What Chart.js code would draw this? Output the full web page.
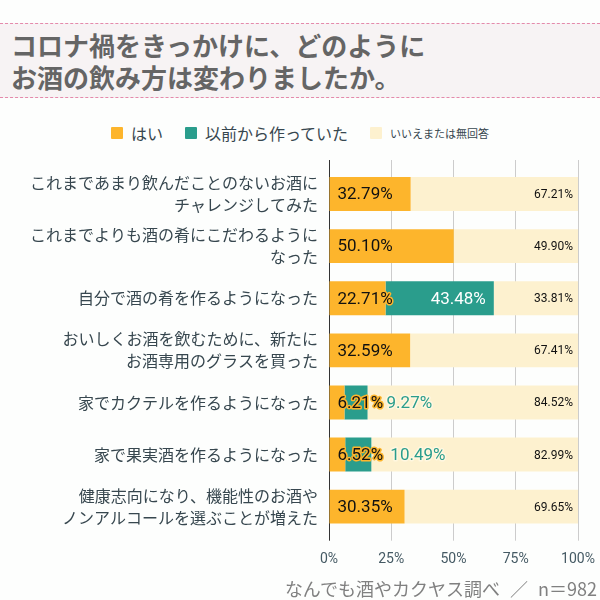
<!DOCTYPE html>
<html lang="ja">
<head>
<meta charset="utf-8">
<script src="https://cdn.jsdelivr.net/npm/chart.js@4"></script>
<style>
  body { margin: 0; background: #fdfefd; }
  #wrap { position: relative; width: 600px; height: 600px; overflow: hidden; font-family: 'Noto Sans CJK JP', sans-serif; }
  #title {
    position: absolute; left: 0; top: 23px; width: 600px; height: 73px;
    background: #f7f3f4; border-top: 1px dashed #e48aab; border-bottom: 1px dashed #e48aab;
    color: #656565; font-weight: bold; font-size: 26px; line-height: 32px;
  }
  #title div { padding-left: 11px; }
  #title div:first-child { margin-top: 5px; }
  #legend {
    position: absolute; left: 0; top: 122px; width: 600px; height: 22px;
    display: flex; align-items: center; justify-content: center; color: #37474f;
  }
  #legend .item { display: flex; align-items: center; margin: 0 11px; }
  #legend .box { width: 12px; height: 12px; margin-right: 8px; border-radius: 1px; }
  #chart { position: absolute; left: 0; top: 0; }
  #footer {
    position: absolute; right: 3px; top: 576px; color: #808080; font-size: 18px; line-height: 24px;
    word-spacing: 6px;
  }
</style>
</head>
<body>
<div id="wrap">
  <div id="title"><div>コロナ禍をきっかけに、どのように</div><div>お酒の飲み方は変わりましたか。</div></div>
  <div id="legend"></div>
  <canvas id="chart" width="600" height="600"></canvas>
  <div id="footer">なんでも酒やカクヤス調べ ／ n＝982</div>
</div>
<script>
const categories = [
    ['これまであまり飲んだことのないお酒に', 'チャレンジしてみた'],
    ['これまでよりも酒の肴にこだわるように', 'なった'],
    '自分で酒の肴を作るようになった',
    ['おいしくお酒を飲むために、新たに', 'お酒専用のグラスを買った'],
    '家でカクテルを作るようになった',
    '家で果実酒を作るようになった',
    ['健康志向になり、機能性のお酒や', 'ノンアルコールを選ぶことが増えた']
];
const seriesNames = ['はい', '以前から作っていた', 'いいえまたは無回答'];
const yesValues = [32.79, 50.10, 22.71, 32.59, 6.21, 6.52, 30.35];
const beforeValues = [0, 0, 43.48, 0, 9.27, 10.49, 0];
const noValues = [67.21, 49.90, 33.81, 67.41, 84.52, 82.99, 69.65];
const xTicks = [0, 25, 50, 75, 100];

const colors = ['#fdb52c', '#2a9d8c', '#fdf1cf'];

// HTML legend (item font sizes differ in the original)
const legendSizes = [16, 16, 11];
const legend = document.getElementById('legend');
seriesNames.forEach((name, i) => {
    const item = document.createElement('div');
    item.className = 'item';
    item.innerHTML = `<span class="box" style="background:${colors[i]}"></span><span style="font-size:${legendSizes[i]}px">${name}</span>`;
    legend.appendChild(item);
});

// Percent labels drawn on the bars
const barLabels = {
    id: 'barLabels',
    afterDatasetsDraw(chart) {
        const ctx = chart.ctx;
        ctx.save();
        ctx.textBaseline = 'middle';
        ctx.lineJoin = 'round';
        chart.data.datasets.forEach((ds, di) => {
            const meta = chart.getDatasetMeta(di);
            meta.data.forEach((bar, i) => {
                const v = ds.data[i];
                if (!v) return;
                const p = bar.getProps(['x', 'base', 'y'], true);
                const text = v.toFixed(2) + '%';
                if (di === 0) {
                    ctx.font = '17px Roboto';
                    ctx.textAlign = 'left';
                    ctx.lineWidth = 3;
                    ctx.strokeStyle = colors[0];
                    ctx.strokeText(text, p.base + 8, p.y + 1);
                    ctx.fillStyle = '#111';
                    ctx.fillText(text, p.base + 8, p.y + 1);
                } else if (di === 1) {
                    ctx.font = '17px Roboto';
                    const w = ctx.measureText(text).width;
                    if (w + 16 < p.x - p.base) {
                        ctx.textAlign = 'right';
                        ctx.fillStyle = '#fff';
                        ctx.fillText(text, p.x - 8, p.y + 1);
                    } else {
                        // too narrow: put the label just past the bar
                        ctx.textAlign = 'left';
                        ctx.lineWidth = 3;
                        ctx.strokeStyle = '#fff7e0';
                        ctx.strokeText(text, p.x + 19, p.y + 1);
                        ctx.fillStyle = colors[1];
                        ctx.fillText(text, p.x + 19, p.y + 1);
                    }
                } else {
                    ctx.font = '12px Roboto';
                    ctx.textAlign = 'right';
                    ctx.fillStyle = '#111';
                    ctx.fillText(text, p.x - 5, p.y + 1);
                }
            });
        });
        ctx.restore();
    }
};

const gridColor = c => (c.index === 0 ? '#333' : '#cccccc');
const noPad = s => { s.paddingLeft = 0; s.paddingRight = 0; s.paddingTop = 0; s.paddingBottom = 0; };

new Chart(document.getElementById('chart'), {
    type: 'bar',
    data: {
        labels: categories,
        datasets: [
            { label: seriesNames[0], data: yesValues, backgroundColor: colors[0] },
            { label: seriesNames[1], data: beforeValues, backgroundColor: colors[1] },
            { label: seriesNames[2], data: noValues, backgroundColor: colors[2] }
        ]
    },
    options: {
        indexAxis: 'y',
        responsive: false,
        animation: false,
        categoryPercentage: 1,
        barPercentage: 0.65,
        layout: { padding: { top: 160, right: 22, bottom: 22.5, left: 0 } },
        plugins: {
            legend: { display: false },
            tooltip: { enabled: false }
        },
        scales: {
            x: {
                stacked: true,
                min: 0, max: 100,
                afterBuildTicks: s => { s.ticks = xTicks.map(v => ({ value: v })); },
                afterFit: noPad,
                grid: { color: gridColor, tickLength: 8 },
                border: { display: false },
                ticks: {
                    callback: v => v + '%',
                    color: '#455a64',
                    font: { family: 'Roboto', size: 14 },
                    padding: 10
                }
            },
            // top axis only to extend the grid lines above the bars
            x2: {
                axis: 'x',
                position: 'top',
                min: 0, max: 100,
                afterBuildTicks: s => { s.ticks = xTicks.map(v => ({ value: v })); },
                afterFit: noPad,
                grid: { color: gridColor, tickLength: 8 },
                border: { display: false },
                ticks: { display: false }
            },
            y: {
                stacked: true,
                grid: { display: false, drawTicks: false },
                border: { display: true, color: '#333' },
                afterFit: s => { noPad(s); s.width = 329; },
                ticks: {
                    autoSkip: false,
                    color: '#37474f',
                    padding: 11,
                    font: { family: 'Noto Sans CJK JP', size: 16, lineHeight: 1.375 }
                }
            }
        }
    },
    plugins: [barLabels]
});
</script>
</body>
</html>
